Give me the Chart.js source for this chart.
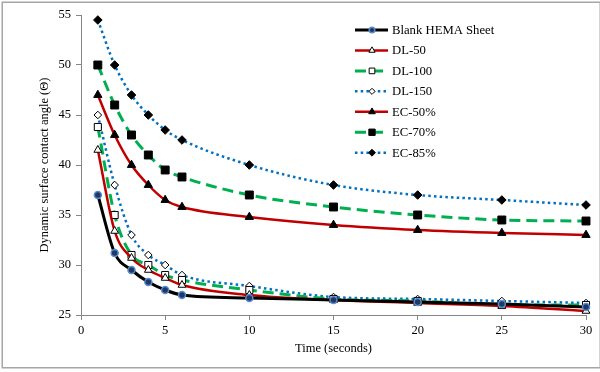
<!DOCTYPE html>
<html>
<head>
<meta charset="utf-8">
<script src="https://cdn.jsdelivr.net/npm/chart.js@4"></script>
<style>
  html, body { margin: 0; padding: 0; background: #ffffff; }
  #wrap { width: 600px; height: 372px; position: relative; }
</style>
</head>
<body>
<div id="wrap"><canvas id="c" width="600" height="372"></canvas></div>
<script>
const timeSeconds = [1, 2, 3, 4, 5, 6, 10, 15, 20, 25, 30];
const blankHema = [37.0, 31.2, 29.5, 28.3, 27.5, 27.0, 26.7, 26.5, 26.3, 26.1, 25.8];
const dl50  = [41.5, 33.4, 30.7, 29.5, 28.7, 28.0, 27.0, 26.5, 26.2, 25.9, 25.4];
const dl100 = [43.8, 35.0, 31.0, 30.0, 29.0, 28.5, 27.5, 26.6, 26.4, 26.0, 26.0];
const dl150 = [45.0, 38.0, 33.0, 31.0, 30.0, 29.0, 27.9, 26.8, 26.6, 26.4, 26.2];
const ec50  = [47.0, 43.0, 40.0, 38.0, 36.5, 35.8, 34.8, 34.0, 33.5, 33.2, 33.0];
const ec70  = [50.0, 46.0, 43.0, 41.0, 39.5, 38.8, 37.0, 35.8, 35.0, 34.5, 34.4];
const ec85  = [54.5, 50.0, 47.0, 45.0, 43.5, 42.5, 40.0, 38.0, 37.0, 36.5, 36.0];
const seriesNames = ['Blank HEMA Sheet', 'DL-50', 'DL-100', 'DL-150', 'EC-50%', 'EC-70%', 'EC-85%'];
const xTicks = [0, 5, 10, 15, 20, 25, 30];
const yTicks = [25, 30, 35, 40, 45, 50, 55];
const xTitle = 'Time (seconds)';
const yTitle = 'Dynamic surface contact angle (Θ)';

const SERIF = "'Liberation Serif', 'Times New Roman', serif";
const RED = '#C00000', GREEN = '#00B050', BLUE = '#0070C0', BLACK = '#000000';
const DASH = [11, 6], DOT = [2.5, 3.2];

function pts(arr) { return arr.map((v, i) => ({ x: timeSeconds[i], y: v })); }

const styles = [
  { color: BLACK, dash: [], width: 3, ps: 'circle', r: 3.5, fill: '#1F3864', stroke: '#5B8BD0', bw: 1.5 },
  { color: RED, dash: [], width: 2.5, ps: 'triangle', r: 4.5, fill: '#ffffff', stroke: '#000000', bw: 1 },
  { color: GREEN, dash: DASH, width: 3, ps: 'rect', r: 5, fill: '#ffffff', stroke: '#000000', bw: 1 },
  { color: BLUE, dash: DOT, width: 2.5, ps: 'rectRot', r: 3.8, fill: '#ffffff', stroke: '#000000', bw: 1 },
  { color: RED, dash: [], width: 2.5, ps: 'triangle', r: 4.8, fill: '#000000', stroke: '#000000', bw: 1 },
  { color: GREEN, dash: DASH, width: 3, ps: 'rect', r: 5.6, fill: '#000000', stroke: '#000000', bw: 1 },
  { color: BLUE, dash: DOT, width: 2.5, ps: 'rectRot', r: 4.3, fill: '#000000', stroke: '#000000', bw: 1 }
];
const seriesData = [blankHema, dl50, dl100, dl150, ec50, ec70, ec85];

const datasets = seriesData.map((arr, i) => ({
  label: seriesNames[i],
  data: pts(arr),
  borderColor: styles[i].color,
  borderWidth: styles[i].width,
  borderDash: styles[i].dash,
  cubicInterpolationMode: 'monotone',
  pointStyle: styles[i].ps,
  pointRadius: styles[i].r,
  pointBackgroundColor: styles[i].fill,
  pointBorderColor: styles[i].stroke,
  pointBorderWidth: styles[i].bw,
  fill: false,
  clip: false
}));

const framePlugin = {
  id: 'frame',
  beforeDraw(chart) {
    const ctx = chart.ctx;
    ctx.save();
    ctx.fillStyle = '#ffffff';
    ctx.fillRect(0, 0, chart.width, chart.height);
    ctx.strokeStyle = '#A6A6A6';
    ctx.lineWidth = 1.5;
    ctx.strokeRect(2.25, 2.25, 598, 365.5);
    ctx.restore();
  }
};

const legendPlugin = {
  id: 'customLegend',
  afterDraw(chart) {
    const ctx = chart.ctx;
    ctx.save();
    chart.data.datasets.forEach((ds, i) => {
      const y = 30 + i * 20.45;
      ctx.beginPath();
      ctx.strokeStyle = ds.borderColor;
      ctx.lineWidth = ds.borderWidth;
      ctx.setLineDash(ds.borderDash);
      ctx.moveTo(355, y);
      ctx.lineTo(388, y);
      ctx.stroke();
      ctx.setLineDash([]);
      ctx.fillStyle = ds.pointBackgroundColor;
      ctx.strokeStyle = ds.pointBorderColor;
      ctx.lineWidth = ds.pointBorderWidth;
      Chart.helpers.drawPoint(ctx, { pointStyle: ds.pointStyle, radius: ds.pointRadius * 0.8, borderWidth: ds.pointBorderWidth, rotation: 0 }, 372, y);
      ctx.fillStyle = '#000000';
      ctx.font = '12.7px ' + SERIF;
      ctx.textBaseline = 'middle';
      ctx.textAlign = 'left';
      ctx.fillText(ds.label, 392, y + 0.5);
    });
    ctx.restore();
  }
};

new Chart(document.getElementById('c'), {
  type: 'line',
  data: { datasets },
  options: {
    responsive: false,
    animation: false,
    devicePixelRatio: 1,
    layout: { padding: { top: 15, right: 14, left: 0, bottom: 0 } },
    plugins: { legend: { display: false }, tooltip: { enabled: false } },
    scales: {
      x: {
        type: 'linear',
        min: 0, max: 30,
        afterBuildTicks(scale) { scale.ticks = xTicks.map(v => ({ value: v })); },
        afterFit(scale) { scale.height = 57; },
        ticks: { color: '#000000', font: { family: SERIF, size: 12.5 }, padding: 3, maxRotation: 0 },
        grid: { drawOnChartArea: false, drawTicks: true, tickLength: 5, tickColor: '#868686' },
        border: { display: true, color: '#868686', width: 1 },
        title: { display: true, text: xTitle, color: '#000000', font: { family: SERIF, size: 12.5 }, padding: { top: 0, bottom: 15.5 } }
      },
      y: {
        type: 'linear',
        min: 25, max: 55,
        afterBuildTicks(scale) { scale.ticks = yTicks.map(v => ({ value: v })); },
        afterFit(scale) { scale.width = 81; },
        ticks: { color: '#000000', font: { family: SERIF, size: 12.5 }, padding: 5 },
        grid: { drawOnChartArea: false, drawTicks: true, tickLength: 5, tickColor: '#868686' },
        border: { display: true, color: '#868686', width: 1 },
        title: { display: true, text: yTitle, color: '#000000', font: { family: SERIF, size: 12.5 }, padding: { top: 37.5, bottom: 0 } }
      }
    }
  },
  plugins: [framePlugin, legendPlugin]
});
</script>
</body>
</html>
